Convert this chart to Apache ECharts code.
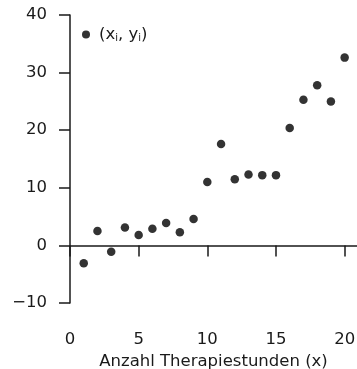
<!DOCTYPE html>
<html>
<head>
<meta charset="utf-8">
<script src="https://cdn.jsdelivr.net/npm/echarts@6/dist/echarts.min.js"></script>
<style>
html,body{margin:0;padding:0;background:#fff;}
#chart{width:357px;height:369px;}
</style>
</head>
<body>
<div id="chart"></div>
<script>
const xValues = [1,2,3,4,5,6,7,8,9,10,11,12,13,14,15,16,17,18,19,20];
const yValues = [-3.1,2.5,-1.1,3.1,1.8,2.9,3.9,2.3,4.6,11.0,17.6,11.5,12.3,12.2,12.2,20.4,25.3,27.8,25.0,32.6];
const xTicks = [0,5,10,15,20];
const yTicks = [-10,0,10,20,30,40];
const seriesName = 'pts';

const font = "'DejaVu Sans', 'Liberation Sans', Arial, sans-serif";
const ink = '#1a1a1a';
const points = xValues.map((x,i)=>[x,yValues[i]]);

const chart = echarts.init(document.getElementById('chart'), null, {renderer:'canvas'});
chart.setOption({
  animation:false,
  backgroundColor:'#fff',
  grid:{left:70, top:15, right:0, bottom:66, containLabel:false, outerBoundsMode:'none'},
  legend:{
    left:77, top:21,
    itemWidth:8, itemHeight:8,
    icon:'circle',
    data:[seriesName],
    formatter:function(){return '(x{s|i}, y{s|i})';},
    textStyle:{
      fontFamily:font, fontSize:16.5, color:ink, padding:[0,0,0,4],
      rich:{s:{fontFamily:font, fontSize:10, color:ink, padding:[8,0,0,0]}}
    }
  },
  xAxis:{
    type:'value', min:0, max:20.9,
    name:'Anzahl Therapiestunden (x)', nameLocation:'middle', nameGap:47,
    nameTextStyle:{fontFamily:font, fontSize:16.5, color:ink},
    splitLine:{show:false},
    axisLine:{show:true, lineStyle:{color:ink, width:1.5}},
    axisTick:{show:true, inside:false, length:11, customValues:xTicks, lineStyle:{color:ink, width:1.5}},
    axisLabel:{customValues:xTicks, margin:28, fontFamily:font, fontSize:16.5, color:ink}
  },
  yAxis:{
    type:'value', min:-10, max:40, interval:10,
    name:'Symptomreduktion (y)', nameLocation:'middle', nameGap:44,
    nameTextStyle:{fontFamily:font, fontSize:16.5, color:ink},
    splitLine:{show:false},
    axisLine:{show:true, onZero:false, lineStyle:{color:ink, width:1.5}},
    axisTick:{show:true, inside:false, length:11, customValues:yTicks, lineStyle:{color:ink, width:1.5}},
    axisLabel:{customValues:yTicks, margin:23, fontFamily:font, fontSize:16.5, color:ink,
      formatter:function(v){return v<0 ? '\u2212'+Math.abs(v) : String(v);}}
  },
  series:[{
    name:seriesName, type:'scatter', data:points,
    symbol:'circle', symbolSize:8.5,
    itemStyle:{color:'#000'}
  }]
});
</script>
</body>
</html>
